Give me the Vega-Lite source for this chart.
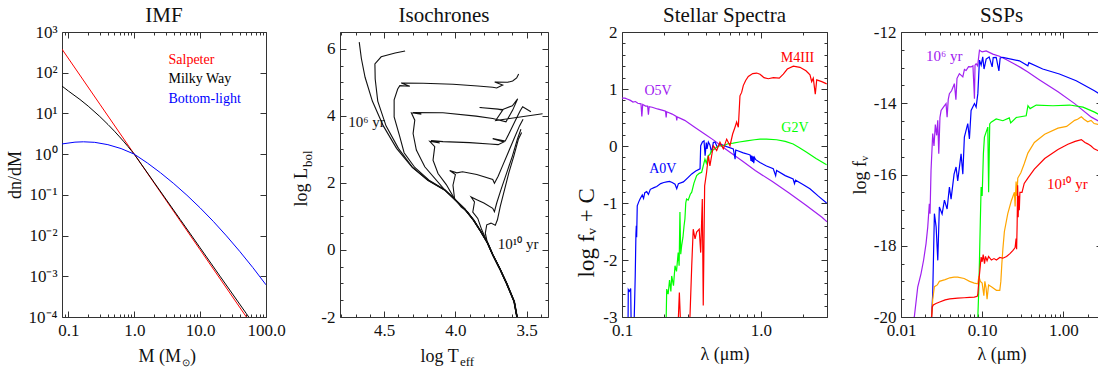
{
 "$schema": "https://vega.github.io/schema/vega-lite/v6.json",
 "padding": {"left": 5, "top": 4, "right": 5, "bottom": 4},
 "background": "white",
 "bounds": "flush",
 "spacing": 74,
 "resolve": {"scale": {"color": "independent"}},
 "config": {
  "font": "Liberation Serif",
  "view": {"stroke": "#333", "strokeWidth": 1},
  "axis": {"grid": false, "domain": false, "labelFont": "Liberation Serif", "labelFontSize": 17, "labelColor": "#111", "labelPadding": 11, "labelOverlap": false, "labelFlush": false, "labelBound": false, "titleFont": "Liberation Serif", "titleFontSize": 18, "titleFontWeight": "normal", "titleColor": "#111", "tickColor": "#333", "tickWidth": 1, "tickSize": -6},
  "title": {"font": "Liberation Serif", "fontSize": 21, "fontWeight": "normal", "color": "#111", "offset": -3, "frame": "group"},
  "text": {"font": "Liberation Serif"}
 },
 "datasets": {
  "imf": [
   {"s":"Salpeter","M":0.08,"dn":379},{"s":"Salpeter","M":0.3,"dn":16.9},{"s":"Salpeter","M":1,"dn":1},{"s":"Salpeter","M":10,"dn":0.00447},{"s":"Salpeter","M":100,"dn":0.00002},
   {"s":"Milky Way","M":0.08,"dn":47},{"s":"Milky Way","M":0.1,"dn":35.5},{"s":"Milky Way","M":0.15,"dn":22},{"s":"Milky Way","M":0.2,"dn":15.1},{"s":"Milky Way","M":0.3,"dn":8.4},{"s":"Milky Way","M":0.4,"dn":5.33},{"s":"Milky Way","M":0.5,"dn":3.66},{"s":"Milky Way","M":0.6,"dn":2.65},{"s":"Milky Way","M":0.7,"dn":2.0},{"s":"Milky Way","M":0.8,"dn":1.55},{"s":"Milky Way","M":0.9,"dn":1.23},{"s":"Milky Way","M":1,"dn":1},{"s":"Milky Way","M":2,"dn":0.203},{"s":"Milky Way","M":5,"dn":0.0247},{"s":"Milky Way","M":10,"dn":0.005},{"s":"Milky Way","M":20,"dn":0.00101},{"s":"Milky Way","M":50,"dn":0.000123},{"s":"Milky Way","M":100,"dn":0.000025},
   {"s":"Bottom-light","M":0.08,"dn":1.78},{"s":"Bottom-light","M":0.1259,"dn":1.97},{"s":"Bottom-light","M":0.1698,"dn":2.01},{"s":"Bottom-light","M":0.2512,"dn":1.95},{"s":"Bottom-light","M":0.3981,"dn":1.71},{"s":"Bottom-light","M":0.631,"dn":1.37},{"s":"Bottom-light","M":1,"dn":1},{"s":"Bottom-light","M":1.585,"dn":0.605},{"s":"Bottom-light","M":2.512,"dn":0.347},{"s":"Bottom-light","M":3.981,"dn":0.189},{"s":"Bottom-light","M":6.31,"dn":0.0977},{"s":"Bottom-light","M":10,"dn":0.0479},{"s":"Bottom-light","M":15.85,"dn":0.0223},{"s":"Bottom-light","M":25.12,"dn":0.00982},{"s":"Bottom-light","M":39.81,"dn":0.00411},{"s":"Bottom-light","M":63.1,"dn":0.00164},{"s":"Bottom-light","M":100,"dn":0.000617}
  ],
  "imf_lab": [
   {"s":"Salpeter","t":"Salpeter","M":3.31,"dn":206},
   {"s":"Milky Way","t":"Milky Way","M":3.31,"dn":70.5},
   {"s":"Bottom-light","t":"Bottom-light","M":3.31,"dn":22.8}
  ],
  "iso": [
   {"i":"A","T":3.563,"L":-2.1},{"i":"A","T":3.587,"L":-1.54},{"i":"A","T":3.64,"L":-1.0},{"i":"A","T":3.689,"L":-0.55},{"i":"A","T":3.738,"L":-0.14},{"i":"A","T":3.773,"L":0.2},{"i":"A","T":3.822,"L":0.55},{"i":"A","T":3.871,"L":0.88},{"i":"A","T":3.934,"L":1.22},{"i":"A","T":4.003,"L":1.5},{"i":"A","T":4.075,"L":1.79},{"i":"A","T":4.192,"L":2.08},{"i":"A","T":4.303,"L":2.46},{"i":"A","T":4.413,"L":3.03},{"i":"A","T":4.506,"L":3.7},{"i":"A","T":4.583,"L":4.44},{"i":"A","T":4.634,"L":5.15},{"i":"A","T":4.66,"L":5.71},{"i":"A","T":4.675,"L":6.2},
   {"i":"B","T":3.565,"L":-2.1},{"i":"B","T":3.589,"L":-1.54},{"i":"B","T":3.642,"L":-1.0},{"i":"B","T":3.691,"L":-0.55},{"i":"B","T":3.74,"L":-0.14},{"i":"B","T":3.775,"L":0.2},{"i":"B","T":3.824,"L":0.55},{"i":"B","T":3.873,"L":0.88},{"i":"B","T":3.936,"L":1.22},{"i":"B","T":4.005,"L":1.5},{"i":"B","T":4.077,"L":1.79},{"i":"B","T":4.194,"L":2.08},{"i":"B","T":4.3,"L":2.46},{"i":"B","T":4.4,"L":3.03},{"i":"B","T":4.487,"L":3.7},{"i":"B","T":4.545,"L":4.44},{"i":"B","T":4.563,"L":5.1},{"i":"B","T":4.565,"L":5.55},{"i":"B","T":4.521,"L":5.76},{"i":"B","T":4.423,"L":5.875},{"i":"B","T":4.353,"L":5.935},
   {"i":"C","T":3.561,"L":-2.1},{"i":"C","T":3.585,"L":-1.54},{"i":"C","T":3.638,"L":-1.0},{"i":"C","T":3.687,"L":-0.55},{"i":"C","T":3.736,"L":-0.14},{"i":"C","T":3.771,"L":0.2},{"i":"C","T":3.82,"L":0.55},{"i":"C","T":3.869,"L":0.88},{"i":"C","T":3.932,"L":1.22},{"i":"C","T":4.0,"L":1.5},{"i":"C","T":4.072,"L":1.79},{"i":"C","T":4.185,"L":2.08},{"i":"C","T":4.285,"L":2.46},{"i":"C","T":4.36,"L":2.9},{"i":"C","T":4.39,"L":3.375},{"i":"C","T":4.43,"L":3.97},{"i":"C","T":4.43,"L":4.476},{"i":"C","T":4.405,"L":4.8},{"i":"C","T":4.39,"L":4.9},{"i":"C","T":4.32,"L":4.88},{"i":"C","T":4.38,"L":4.98},{"i":"C","T":4.227,"L":4.97},{"i":"C","T":4.017,"L":4.94},{"i":"C","T":3.843,"L":4.89},{"i":"C","T":3.738,"L":4.85},{"i":"C","T":3.71,"L":4.83},{"i":"C","T":3.668,"L":4.92},{"i":"C","T":3.724,"L":5.01},{"i":"C","T":3.633,"L":5.0},{"i":"C","T":3.598,"L":5.04},{"i":"C","T":3.57,"L":5.13},{"i":"C","T":3.556,"L":5.25},
   {"i":"D","T":3.563,"L":-2.1},{"i":"D","T":3.587,"L":-1.54},{"i":"D","T":3.64,"L":-1.0},{"i":"D","T":3.689,"L":-0.55},{"i":"D","T":3.738,"L":-0.14},{"i":"D","T":3.773,"L":0.2},{"i":"D","T":3.822,"L":0.55},{"i":"D","T":3.871,"L":0.88},{"i":"D","T":3.934,"L":1.22},{"i":"D","T":4.003,"L":1.5},{"i":"D","T":4.075,"L":1.79},{"i":"D","T":4.215,"L":2.48},{"i":"D","T":4.274,"L":2.98},{"i":"D","T":4.297,"L":3.47},{"i":"D","T":4.285,"L":3.87},{"i":"D","T":4.309,"L":4.09},{"i":"D","T":4.239,"L":4.05},{"i":"D","T":4.297,"L":4.1},{"i":"D","T":4.087,"L":4.09},{"i":"D","T":3.855,"L":3.99},{"i":"D","T":3.738,"L":3.92},{"i":"D","T":3.645,"L":3.82},{"i":"D","T":3.598,"L":4.17},{"i":"D","T":3.563,"L":4.51},{"i":"D","T":3.6,"L":4.3},{"i":"D","T":3.668,"L":4.19},{"i":"D","T":3.83,"L":4.25},{"i":"D","T":3.7,"L":4.2},{"i":"D","T":3.668,"L":4.17},{"i":"D","T":3.717,"L":3.86},{"i":"D","T":3.388,"L":4.06},
   {"i":"E","T":3.563,"L":-2.1},{"i":"E","T":3.587,"L":-1.54},{"i":"E","T":3.64,"L":-1.0},{"i":"E","T":3.689,"L":-0.55},{"i":"E","T":3.738,"L":-0.14},{"i":"E","T":3.773,"L":0.2},{"i":"E","T":3.822,"L":0.55},{"i":"E","T":3.871,"L":0.88},{"i":"E","T":3.934,"L":1.22},{"i":"E","T":4.003,"L":1.5},{"i":"E","T":4.064,"L":1.95},{"i":"E","T":4.122,"L":2.28},{"i":"E","T":4.157,"L":2.68},{"i":"E","T":4.145,"L":3.08},{"i":"E","T":4.18,"L":3.24},{"i":"E","T":4.11,"L":3.19},{"i":"E","T":4.17,"L":3.26},{"i":"E","T":4.087,"L":3.23},{"i":"E","T":3.9,"L":3.2},{"i":"E","T":3.76,"L":3.16},{"i":"E","T":3.7,"L":3.14},{"i":"E","T":3.66,"L":3.22},{"i":"E","T":3.738,"L":3.32},{"i":"E","T":3.65,"L":3.25},{"i":"E","T":3.62,"L":3.5},{"i":"E","T":3.58,"L":3.85},{"i":"E","T":3.545,"L":4.15},{"i":"E","T":3.528,"L":4.27},{"i":"E","T":3.47,"L":4.12},
   {"i":"F","T":3.563,"L":-2.1},{"i":"F","T":3.587,"L":-1.54},{"i":"F","T":3.64,"L":-1.0},{"i":"F","T":3.689,"L":-0.55},{"i":"F","T":3.738,"L":-0.14},{"i":"F","T":3.773,"L":0.2},{"i":"F","T":3.822,"L":0.55},{"i":"F","T":3.871,"L":0.88},{"i":"F","T":3.913,"L":1.13},{"i":"F","T":3.959,"L":1.28},{"i":"F","T":4.006,"L":1.53},{"i":"F","T":4.017,"L":1.93},{"i":"F","T":4.0,"L":2.25},{"i":"F","T":4.04,"L":2.37},{"i":"F","T":3.99,"L":2.3},{"i":"F","T":3.95,"L":2.33},{"i":"F","T":3.85,"L":2.25},{"i":"F","T":3.738,"L":2.1},{"i":"F","T":3.726,"L":1.99},{"i":"F","T":3.7,"L":2.2},{"i":"F","T":3.67,"L":2.5},{"i":"F","T":3.63,"L":2.9},{"i":"F","T":3.59,"L":3.3},{"i":"F","T":3.55,"L":3.7},{"i":"F","T":3.525,"L":3.9},
   {"i":"G","T":3.563,"L":-2.1},{"i":"G","T":3.587,"L":-1.54},{"i":"G","T":3.64,"L":-1.0},{"i":"G","T":3.689,"L":-0.55},{"i":"G","T":3.738,"L":-0.14},{"i":"G","T":3.773,"L":0.2},{"i":"G","T":3.815,"L":0.6},{"i":"G","T":3.843,"L":0.94},{"i":"G","T":3.878,"L":1.13},{"i":"G","T":3.866,"L":1.43},{"i":"G","T":3.89,"L":1.58},{"i":"G","T":3.85,"L":1.5},{"i":"G","T":3.8,"L":1.4},{"i":"G","T":3.738,"L":1.24},{"i":"G","T":3.726,"L":1.14},{"i":"G","T":3.71,"L":1.4},{"i":"G","T":3.68,"L":1.8},{"i":"G","T":3.64,"L":2.3},{"i":"G","T":3.6,"L":2.8},{"i":"G","T":3.565,"L":3.3},{"i":"G","T":3.54,"L":3.6},
   {"i":"H","T":3.565,"L":-2.1},{"i":"H","T":3.589,"L":-1.54},{"i":"H","T":3.642,"L":-1.0},{"i":"H","T":3.691,"L":-0.55},{"i":"H","T":3.74,"L":-0.14},{"i":"H","T":3.775,"L":0.2},{"i":"H","T":3.79,"L":0.5},{"i":"H","T":3.78,"L":0.75},{"i":"H","T":3.75,"L":0.8},{"i":"H","T":3.72,"L":0.74},{"i":"H","T":3.705,"L":0.9},{"i":"H","T":3.685,"L":1.3},{"i":"H","T":3.655,"L":1.8},{"i":"H","T":3.625,"L":2.3},{"i":"H","T":3.59,"L":2.8},{"i":"H","T":3.558,"L":3.3},{"i":"H","T":3.535,"L":3.5}
  ],
  "iso_lab": [
   {"t":"10⁶ yr","T":4.752,"L":3.82},
   {"t":"10¹⁰ yr","T":3.703,"L":0.19}
  ],
  "spec": [
   {"s":"O5V","w":0.1,"f":0.84},{"s":"O5V","w":0.105,"f":0.84},{"s":"O5V","w":0.11,"f":0.82},{"s":"O5V","w":0.115,"f":0.8},{"s":"O5V","w":0.12,"f":0.77},{"s":"O5V","w":0.125,"f":0.78},{"s":"O5V","w":0.13,"f":0.75},{"s":"O5V","w":0.137,"f":0.74},{"s":"O5V","w":0.139,"f":0.52},{"s":"O5V","w":0.141,"f":0.73},{"s":"O5V","w":0.148,"f":0.7},{"s":"O5V","w":0.153,"f":0.7},{"s":"O5V","w":0.155,"f":0.55},{"s":"O5V","w":0.157,"f":0.69},{"s":"O5V","w":0.165,"f":0.68},{"s":"O5V","w":0.18,"f":0.65},{"s":"O5V","w":0.2,"f":0.62},{"s":"O5V","w":0.206,"f":0.61},{"s":"O5V","w":0.208,"f":0.5},{"s":"O5V","w":0.21,"f":0.6},{"s":"O5V","w":0.23,"f":0.56},{"s":"O5V","w":0.246,"f":0.52},{"s":"O5V","w":0.248,"f":0.45},{"s":"O5V","w":0.25,"f":0.51},{"s":"O5V","w":0.283,"f":0.45},{"s":"O5V","w":0.334,"f":0.33},{"s":"O5V","w":0.394,"f":0.21},{"s":"O5V","w":0.466,"f":0.09},{"s":"O5V","w":0.52,"f":0.0},{"s":"O5V","w":0.6,"f":-0.11},{"s":"O5V","w":0.732,"f":-0.26},{"s":"O5V","w":0.912,"f":-0.43},{"s":"O5V","w":1.205,"f":-0.62},{"s":"O5V","w":1.589,"f":-0.82},{"s":"O5V","w":2.094,"f":-1.03},{"s":"O5V","w":2.76,"f":-1.25},{"s":"O5V","w":3.0,"f":-1.33},
   {"s":"A0V","w":0.1105,"f":-3.2},{"s":"A0V","w":0.111,"f":-2.52},{"s":"A0V","w":0.113,"f":-2.55},{"s":"A0V","w":0.1155,"f":-2.5},{"s":"A0V","w":0.1165,"f":-3.2},{"s":"A0V","w":0.122,"f":-3.2},{"s":"A0V","w":0.1245,"f":-2.3},{"s":"A0V","w":0.126,"f":-1.55},{"s":"A0V","w":0.1268,"f":-1.4},{"s":"A0V","w":0.1275,"f":-1.6},{"s":"A0V","w":0.1288,"f":-1.05},{"s":"A0V","w":0.132,"f":-0.98},{"s":"A0V","w":0.1349,"f":-0.93},{"s":"A0V","w":0.14,"f":-0.86},{"s":"A0V","w":0.143,"f":-0.92},{"s":"A0V","w":0.146,"f":-0.82},{"s":"A0V","w":0.1507,"f":-0.8},{"s":"A0V","w":0.155,"f":-0.85},{"s":"A0V","w":0.16,"f":-0.76},{"s":"A0V","w":0.17,"f":-0.73},{"s":"A0V","w":0.178,"f":-0.71},{"s":"A0V","w":0.19,"f":-0.66},{"s":"A0V","w":0.2,"f":-0.64},{"s":"A0V","w":0.21,"f":-0.63},{"s":"A0V","w":0.22,"f":-0.62},{"s":"A0V","w":0.23,"f":-0.64},{"s":"A0V","w":0.241,"f":-0.67},{"s":"A0V","w":0.248,"f":-0.75},{"s":"A0V","w":0.255,"f":-0.66},{"s":"A0V","w":0.277,"f":-0.63},{"s":"A0V","w":0.3,"f":-0.55},{"s":"A0V","w":0.318,"f":-0.49},{"s":"A0V","w":0.34,"f":-0.44},{"s":"A0V","w":0.365,"f":-0.4},{"s":"A0V","w":0.369,"f":0.005},{"s":"A0V","w":0.38,"f":0.07},{"s":"A0V","w":0.39,"f":0.09},{"s":"A0V","w":0.397,"f":-0.17},{"s":"A0V","w":0.405,"f":0.06},{"s":"A0V","w":0.41,"f":-0.05},{"s":"A0V","w":0.419,"f":0.07},{"s":"A0V","w":0.43,"f":0.02},{"s":"A0V","w":0.442,"f":-0.11},{"s":"A0V","w":0.455,"f":0.06},{"s":"A0V","w":0.468,"f":0.07},{"s":"A0V","w":0.486,"f":-0.02},{"s":"A0V","w":0.508,"f":0.035},{"s":"A0V","w":0.568,"f":-0.01},{"s":"A0V","w":0.634,"f":-0.05},{"s":"A0V","w":0.653,"f":-0.23},{"s":"A0V","w":0.66,"f":-0.07},{"s":"A0V","w":0.748,"f":-0.12},{"s":"A0V","w":0.82,"f":-0.15},{"s":"A0V","w":0.84,"f":-0.16},{"s":"A0V","w":0.85,"f":-0.26},{"s":"A0V","w":0.86,"f":-0.17},{"s":"A0V","w":0.87,"f":-0.28},{"s":"A0V","w":0.88,"f":-0.18},{"s":"A0V","w":0.89,"f":-0.3},{"s":"A0V","w":0.9,"f":-0.2},{"s":"A0V","w":0.92,"f":-0.24},{"s":"A0V","w":0.986,"f":-0.29},{"s":"A0V","w":1.1,"f":-0.35},{"s":"A0V","w":1.23,"f":-0.4},{"s":"A0V","w":1.28,"f":-0.52},{"s":"A0V","w":1.3,"f":-0.43},{"s":"A0V","w":1.5,"f":-0.52},{"s":"A0V","w":1.71,"f":-0.58},{"s":"A0V","w":1.75,"f":-0.66},{"s":"A0V","w":1.78,"f":-0.6},{"s":"A0V","w":2.0,"f":-0.67},{"s":"A0V","w":2.26,"f":-0.75},{"s":"A0V","w":2.6,"f":-0.88},{"s":"A0V","w":2.98,"f":-1.0},
   {"s":"G2V","w":0.2075,"f":-3.2},{"s":"G2V","w":0.21,"f":-2.51},{"s":"G2V","w":0.215,"f":-2.6},{"s":"G2V","w":0.22,"f":-2.35},{"s":"G2V","w":0.225,"f":-2.55},{"s":"G2V","w":0.228,"f":-2.28},{"s":"G2V","w":0.235,"f":-2.45},{"s":"G2V","w":0.241,"f":-2.1},{"s":"G2V","w":0.247,"f":-2.2},{"s":"G2V","w":0.254,"f":-1.87},{"s":"G2V","w":0.258,"f":-2.1},{"s":"G2V","w":0.2615,"f":-1.16},{"s":"G2V","w":0.265,"f":-1.9},{"s":"G2V","w":0.269,"f":-1.75},{"s":"G2V","w":0.275,"f":-1.6},{"s":"G2V","w":0.28,"f":-1.4},{"s":"G2V","w":0.284,"f":-1.28},{"s":"G2V","w":0.288,"f":-1.0},{"s":"G2V","w":0.292,"f":-0.93},{"s":"G2V","w":0.3,"f":-0.95},{"s":"G2V","w":0.31,"f":-0.85},{"s":"G2V","w":0.318,"f":-0.81},{"s":"G2V","w":0.33,"f":-0.65},{"s":"G2V","w":0.345,"f":-0.52},{"s":"G2V","w":0.36,"f":-0.48},{"s":"G2V","w":0.375,"f":-0.46},{"s":"G2V","w":0.385,"f":-0.35},{"s":"G2V","w":0.396,"f":-0.23},{"s":"G2V","w":0.405,"f":-0.3},{"s":"G2V","w":0.418,"f":-0.17},{"s":"G2V","w":0.43,"f":-0.15},{"s":"G2V","w":0.442,"f":-0.08},{"s":"G2V","w":0.46,"f":-0.06},{"s":"G2V","w":0.481,"f":-0.02},{"s":"G2V","w":0.5,"f":0.0},{"s":"G2V","w":0.536,"f":0.005},{"s":"G2V","w":0.58,"f":0.04},{"s":"G2V","w":0.632,"f":0.05},{"s":"G2V","w":0.7,"f":0.07},{"s":"G2V","w":0.791,"f":0.09},{"s":"G2V","w":0.9,"f":0.11},{"s":"G2V","w":0.988,"f":0.12},{"s":"G2V","w":1.1,"f":0.12},{"s":"G2V","w":1.3,"f":0.11},{"s":"G2V","w":1.5,"f":0.08},{"s":"G2V","w":1.71,"f":0.035},{"s":"G2V","w":1.9,"f":-0.03},{"s":"G2V","w":2.14,"f":-0.11},{"s":"G2V","w":2.5,"f":-0.22},{"s":"G2V","w":2.98,"f":-0.33},
   {"s":"M4III","w":0.253,"f":-3.2},{"s":"M4III","w":0.259,"f":-2.57},{"s":"M4III","w":0.265,"f":-3.2},{"s":"M4III","w":0.305,"f":-3.2},{"s":"M4III","w":0.309,"f":-2.98},{"s":"M4III","w":0.318,"f":-2.1},{"s":"M4III","w":0.326,"f":-1.46},{"s":"M4III","w":0.336,"f":-1.63},{"s":"M4III","w":0.345,"f":-1.51},{"s":"M4III","w":0.36,"f":-1.46},{"s":"M4III","w":0.369,"f":-1.87},{"s":"M4III","w":0.379,"f":-0.93},{"s":"M4III","w":0.385,"f":-2.8},{"s":"M4III","w":0.394,"f":-0.7},{"s":"M4III","w":0.407,"f":-0.46},{"s":"M4III","w":0.419,"f":-0.17},{"s":"M4III","w":0.43,"f":-0.35},{"s":"M4III","w":0.455,"f":0.005},{"s":"M4III","w":0.481,"f":-0.08},{"s":"M4III","w":0.508,"f":0.065},{"s":"M4III","w":0.537,"f":-0.05},{"s":"M4III","w":0.568,"f":0.12},{"s":"M4III","w":0.6,"f":0.005},{"s":"M4III","w":0.627,"f":0.21},{"s":"M4III","w":0.652,"f":0.33},{"s":"M4III","w":0.67,"f":0.42},{"s":"M4III","w":0.689,"f":0.33},{"s":"M4III","w":0.708,"f":0.88},{"s":"M4III","w":0.728,"f":0.94},{"s":"M4III","w":0.748,"f":1.06},{"s":"M4III","w":0.778,"f":1.15},{"s":"M4III","w":0.813,"f":1.22},{"s":"M4III","w":0.875,"f":1.27},{"s":"M4III","w":0.934,"f":1.28},{"s":"M4III","w":0.987,"f":1.26},{"s":"M4III","w":1.054,"f":1.2},{"s":"M4III","w":1.132,"f":1.18},{"s":"M4III","w":1.231,"f":1.2},{"s":"M4III","w":1.359,"f":1.19},{"s":"M4III","w":1.453,"f":1.26},{"s":"M4III","w":1.553,"f":1.35},{"s":"M4III","w":1.716,"f":1.4},{"s":"M4III","w":1.915,"f":1.38},{"s":"M4III","w":2.117,"f":1.32},{"s":"M4III","w":2.262,"f":1.25},{"s":"M4III","w":2.327,"f":1.13},{"s":"M4III","w":2.389,"f":1.19},{"s":"M4III","w":2.47,"f":0.91},{"s":"M4III","w":2.53,"f":1.16},{"s":"M4III","w":2.75,"f":1.13},{"s":"M4III","w":2.985,"f":1.09}
  ],
  "spec_lab": [
   {"s":"O5V","t":"O5V","w":0.1817,"f":0.97},
   {"s":"A0V","t":"A0V","w":0.197,"f":-0.4},
   {"s":"G2V","t":"G2V","w":1.763,"f":0.31},
   {"s":"M4III","t":"M4III","w":1.84,"f":1.54}
  ],
  "ssp": [
   {"s":"1e6","w":0.0135,"f":-20.3},{"s":"1e6","w":0.01459,"f":-20.0},{"s":"1e6","w":0.01607,"f":-19.16},{"s":"1e6","w":0.01766,"f":-18.78},{"s":"1e6","w":0.019,"f":-18.4},{"s":"1e6","w":0.02035,"f":-17.94},{"s":"1e6","w":0.02137,"f":-17.47},{"s":"1e6","w":0.02235,"f":-16.82},{"s":"1e6","w":0.0228,"f":-17.1},{"s":"1e6","w":0.02345,"f":-15.88},{"s":"1e6","w":0.0246,"f":-14.85},{"s":"1e6","w":0.0255,"f":-15.2},{"s":"1e6","w":0.0265,"f":-14.6},{"s":"1e6","w":0.0275,"f":-14.9},{"s":"1e6","w":0.02838,"f":-14.48},{"s":"1e6","w":0.0292,"f":-15.42},{"s":"1e6","w":0.0302,"f":-14.4},{"s":"1e6","w":0.0312,"f":-14.2},{"s":"1e6","w":0.0335,"f":-14.1},{"s":"1e6","w":0.0359,"f":-14.01},{"s":"1e6","w":0.037,"f":-14.39},{"s":"1e6","w":0.0382,"f":-13.9},{"s":"1e6","w":0.0395,"f":-13.73},{"s":"1e6","w":0.042,"f":-13.65},{"s":"1e6","w":0.0455,"f":-13.45},{"s":"1e6","w":0.0475,"f":-13.9},{"s":"1e6","w":0.049,"f":-13.3},{"s":"1e6","w":0.0524,"f":-13.17},{"s":"1e6","w":0.0578,"f":-13.26},{"s":"1e6","w":0.0605,"f":-13.05},{"s":"1e6","w":0.0634,"f":-13.08},{"s":"1e6","w":0.068,"f":-12.97},{"s":"1e6","w":0.0731,"f":-12.98},{"s":"1e6","w":0.077,"f":-12.95},{"s":"1e6","w":0.0804,"f":-13.87},{"s":"1e6","w":0.0817,"f":-12.93},{"s":"1e6","w":0.0843,"f":-12.89},{"s":"1e6","w":0.088,"f":-12.95},{"s":"1e6","w":0.0927,"f":-12.51},{"s":"1e6","w":0.1,"f":-12.56},{"s":"1e6","w":0.1121,"f":-12.53},{"s":"1e6","w":0.1355,"f":-12.62},{"s":"1e6","w":0.1637,"f":-12.68},{"s":"1e6","w":0.2,"f":-12.78},{"s":"1e6","w":0.25,"f":-12.9},{"s":"1e6","w":0.3,"f":-13.0},{"s":"1e6","w":0.366,"f":-13.12},{"s":"1e6","w":0.5,"f":-13.33},{"s":"1e6","w":0.861,"f":-13.68},{"s":"1e6","w":1.38,"f":-14.01},{"s":"1e6","w":2.22,"f":-14.39},{"s":"1e6","w":3.0,"f":-14.55},
   {"s":"1e7","w":0.0234,"f":-20.3},{"s":"1e7","w":0.0246,"f":-19.35},{"s":"1e7","w":0.0258,"f":-17.1},{"s":"1e7","w":0.0271,"f":-17.47},{"s":"1e7","w":0.0284,"f":-18.41},{"s":"1e7","w":0.0297,"f":-16.91},{"s":"1e7","w":0.0321,"f":-17.11},{"s":"1e7","w":0.0343,"f":-16.72},{"s":"1e7","w":0.037,"f":-16.97},{"s":"1e7","w":0.0395,"f":-16.35},{"s":"1e7","w":0.0414,"f":-16.69},{"s":"1e7","w":0.0451,"f":-15.99},{"s":"1e7","w":0.0477,"f":-15.79},{"s":"1e7","w":0.05,"f":-16.18},{"s":"1e7","w":0.055,"f":-15.42},{"s":"1e7","w":0.0578,"f":-15.99},{"s":"1e7","w":0.0604,"f":-14.95},{"s":"1e7","w":0.0665,"f":-14.57},{"s":"1e7","w":0.0697,"f":-15.0},{"s":"1e7","w":0.0731,"f":-14.2},{"s":"1e7","w":0.0804,"f":-14.01},{"s":"1e7","w":0.0843,"f":-14.11},{"s":"1e7","w":0.0885,"f":-13.73},{"s":"1e7","w":0.0927,"f":-12.79},{"s":"1e7","w":0.0972,"f":-12.93},{"s":"1e7","w":0.1017,"f":-12.7},{"s":"1e7","w":0.1055,"f":-13.04},{"s":"1e7","w":0.1121,"f":-12.76},{"s":"1e7","w":0.122,"f":-12.7},{"s":"1e7","w":0.1329,"f":-12.98},{"s":"1e7","w":0.1369,"f":-12.72},{"s":"1e7","w":0.1491,"f":-12.71},{"s":"1e7","w":0.1609,"f":-13.09},{"s":"1e7","w":0.1668,"f":-12.73},{"s":"1e7","w":0.18,"f":-12.71},{"s":"1e7","w":0.288,"f":-12.81},{"s":"1e7","w":0.366,"f":-12.95},{"s":"1e7","w":0.376,"f":-12.86},{"s":"1e7","w":0.558,"f":-13.04},{"s":"1e7","w":0.895,"f":-13.18},{"s":"1e7","w":1.443,"f":-13.37},{"s":"1e7","w":2.418,"f":-13.65},{"s":"1e7","w":3.0,"f":-13.78},
   {"s":"1e8","w":0.0865,"f":-20.3},{"s":"1e8","w":0.0885,"f":-20.0},{"s":"1e8","w":0.091,"f":-19.2},{"s":"1e8","w":0.0927,"f":-18.41},{"s":"1e8","w":0.095,"f":-17.3},{"s":"1e8","w":0.0972,"f":-16.35},{"s":"1e8","w":0.1,"f":-16.6},{"s":"1e8","w":0.1036,"f":-15.42},{"s":"1e8","w":0.1067,"f":-14.95},{"s":"1e8","w":0.1175,"f":-14.67},{"s":"1e8","w":0.1202,"f":-16.5},{"s":"1e8","w":0.124,"f":-14.58},{"s":"1e8","w":0.1291,"f":-14.53},{"s":"1e8","w":0.149,"f":-14.44},{"s":"1e8","w":0.18,"f":-14.49},{"s":"1e8","w":0.216,"f":-14.41},{"s":"1e8","w":0.225,"f":-14.55},{"s":"1e8","w":0.263,"f":-14.4},{"s":"1e8","w":0.349,"f":-14.35},{"s":"1e8","w":0.367,"f":-14.07},{"s":"1e8","w":0.39,"f":-14.15},{"s":"1e8","w":0.464,"f":-14.05},{"s":"1e8","w":0.746,"f":-14.07},{"s":"1e8","w":1.197,"f":-14.05},{"s":"1e8","w":1.75,"f":-14.11},{"s":"1e8","w":2.43,"f":-14.25},{"s":"1e8","w":3.0,"f":-14.36},
   {"s":"1e9","w":0.0234,"f":-20.3},{"s":"1e9","w":0.0246,"f":-19.5},{"s":"1e9","w":0.0258,"f":-19.15},{"s":"1e9","w":0.028,"f":-19.1},{"s":"1e9","w":0.0297,"f":-19.0},{"s":"1e9","w":0.035,"f":-18.95},{"s":"1e9","w":0.04,"f":-18.9},{"s":"1e9","w":0.045,"f":-18.88},{"s":"1e9","w":0.05,"f":-18.88},{"s":"1e9","w":0.06,"f":-18.92},{"s":"1e9","w":0.07,"f":-19.0},{"s":"1e9","w":0.08,"f":-19.05},{"s":"1e9","w":0.0885,"f":-19.07},{"s":"1e9","w":0.0912,"f":-18.85},{"s":"1e9","w":0.095,"f":-19.0},{"s":"1e9","w":0.1,"f":-19.05},{"s":"1e9","w":0.105,"f":-19.4},{"s":"1e9","w":0.108,"f":-19.0},{"s":"1e9","w":0.112,"f":-19.2},{"s":"1e9","w":0.115,"f":-19.5},{"s":"1e9","w":0.12,"f":-19.1},{"s":"1e9","w":0.13,"f":-19.15},{"s":"1e9","w":0.15,"f":-19.25},{"s":"1e9","w":0.165,"f":-19.25},{"s":"1e9","w":0.17,"f":-19.0},{"s":"1e9","w":0.175,"f":-18.5},{"s":"1e9","w":0.18,"f":-18.1},{"s":"1e9","w":0.188,"f":-17.6},{"s":"1e9","w":0.207,"f":-17.1},{"s":"1e9","w":0.228,"f":-16.75},{"s":"1e9","w":0.25,"f":-16.5},{"s":"1e9","w":0.255,"f":-16.9},{"s":"1e9","w":0.262,"f":-16.2},{"s":"1e9","w":0.268,"f":-16.6},{"s":"1e9","w":0.275,"f":-16.1},{"s":"1e9","w":0.3,"f":-15.95},{"s":"1e9","w":0.33,"f":-15.7},{"s":"1e9","w":0.366,"f":-15.4},{"s":"1e9","w":0.44,"f":-15.1},{"s":"1e9","w":0.59,"f":-14.87},{"s":"1e9","w":0.86,"f":-14.7},{"s":"1e9","w":1.1,"f":-14.65},{"s":"1e9","w":1.38,"f":-14.48},{"s":"1e9","w":1.5,"f":-14.45},{"s":"1e9","w":1.67,"f":-14.38},{"s":"1e9","w":1.8,"f":-14.45},{"s":"1e9","w":2.0,"f":-14.52},{"s":"1e9","w":2.2,"f":-14.48},{"s":"1e9","w":2.4,"f":-14.57},{"s":"1e9","w":3.0,"f":-14.62},
   {"s":"1e10","w":0.0234,"f":-20.3},{"s":"1e10","w":0.0243,"f":-19.72},{"s":"1e10","w":0.025,"f":-19.66},{"s":"1e10","w":0.027,"f":-19.62},{"s":"1e10","w":0.03,"f":-19.58},{"s":"1e10","w":0.035,"f":-19.52},{"s":"1e10","w":0.04,"f":-19.49},{"s":"1e10","w":0.05,"f":-19.47},{"s":"1e10","w":0.06,"f":-19.46},{"s":"1e10","w":0.07,"f":-19.45},{"s":"1e10","w":0.08,"f":-19.44},{"s":"1e10","w":0.087,"f":-19.42},{"s":"1e10","w":0.0885,"f":-19.35},{"s":"1e10","w":0.0912,"f":-18.97},{"s":"1e10","w":0.0972,"f":-18.32},{"s":"1e10","w":0.1,"f":-18.45},{"s":"1e10","w":0.103,"f":-18.25},{"s":"1e10","w":0.107,"f":-18.5},{"s":"1e10","w":0.11,"f":-18.3},{"s":"1e10","w":0.115,"f":-18.42},{"s":"1e10","w":0.12,"f":-18.3},{"s":"1e10","w":0.13,"f":-18.4},{"s":"1e10","w":0.14,"f":-18.36},{"s":"1e10","w":0.15,"f":-18.4},{"s":"1e10","w":0.165,"f":-18.33},{"s":"1e10","w":0.18,"f":-18.35},{"s":"1e10","w":0.2,"f":-18.3},{"s":"1e10","w":0.22,"f":-18.22},{"s":"1e10","w":0.24,"f":-18.13},{"s":"1e10","w":0.255,"f":-18.05},{"s":"1e10","w":0.262,"f":-17.8},{"s":"1e10","w":0.266,"f":-18.1},{"s":"1e10","w":0.27,"f":-17.4},{"s":"1e10","w":0.274,"f":-16.3},{"s":"1e10","w":0.278,"f":-17.2},{"s":"1e10","w":0.282,"f":-16.6},{"s":"1e10","w":0.287,"f":-17.0},{"s":"1e10","w":0.292,"f":-16.5},{"s":"1e10","w":0.31,"f":-16.5},{"s":"1e10","w":0.33,"f":-16.25},{"s":"1e10","w":0.366,"f":-16.1},{"s":"1e10","w":0.44,"f":-15.85},{"s":"1e10","w":0.59,"f":-15.55},{"s":"1e10","w":0.86,"f":-15.3},{"s":"1e10","w":1.14,"f":-15.15},{"s":"1e10","w":1.4,"f":-15.07},{"s":"1e10","w":1.67,"f":-15.02},{"s":"1e10","w":1.85,"f":-15.1},{"s":"1e10","w":2.0,"f":-15.14},{"s":"1e10","w":2.2,"f":-15.2},{"s":"1e10","w":2.4,"f":-15.28},{"s":"1e10","w":3.0,"f":-15.38}
  ],
  "ssp_lab": [
   {"s":"1e6","t":"10⁶ yr","w":0.0204,"f":-12.66},
   {"s":"1e10","t":"10¹⁰ yr","w":0.629,"f":-16.27}
  ]
 },
 "hconcat": [
  {
   "width": 204, "height": 285, "title": "IMF",
   "resolve": {"axis": {"x": "independent", "y": "independent"}},
   "layer": [
    {"data": {"name": "imf"},
     "mark": {"type": "line", "clip": true, "strokeWidth": 1},
     "encoding": {
      "x": {"field": "M", "type": "quantitative", "scale": {"type": "log", "domain": [0.08, 100], "nice": false},
            "axis": {"orient": "bottom", "values": [0.09,0.1,0.2,0.3,0.4,0.5,0.6,0.7,0.8,0.9,1,2,3,4,5,6,7,8,9,10,20,30,40,50,60,70,80,90,100], "tickSize": {"condition": {"test": "datum.value==0.1||datum.value==1||datum.value==10||datum.value==100", "value": -6}, "value": -3}, "labelExpr": "datum.value==0.1?'0.1':datum.value==1?'1.0':datum.value==10?'10.0':datum.value==100?'100.0':''", "title": "M (M", "titleX": 76, "titleY": 44, "titleAlign": "left", "titleBaseline": "alphabetic"}},
      "y": {"field": "dn", "type": "quantitative", "scale": {"type": "log", "domain": [0.0001, 1000], "nice": false},
            "axis": {"orient": "left", "values": [0.0001,0.001,0.01,0.1,1,10,100,1000], "labelExpr": "['10⁻⁴','10⁻³','10⁻²','10⁻¹','10⁰','10¹','10²','10³'][round(log(datum.value)/LN10)+4]", "title": "dn/dM"}},
      "color": {"field": "s", "type": "nominal", "scale": {"domain": ["Salpeter", "Milky Way", "Bottom-light"], "range": ["#ff0000", "#000000", "#0000ff"]}, "legend": null},
      "order": {"value": null}
     }},
    {"data": {"name": "imf_lab"},
     "mark": {"type": "text", "align": "left", "baseline": "middle", "fontSize": 14},
     "encoding": {
      "x": {"field": "M", "type": "quantitative", "scale": {"type": "log", "domain": [0.08, 100], "nice": false},
            "axis": {"orient": "top", "values": [0.09,0.1,0.2,0.3,0.4,0.5,0.6,0.7,0.8,0.9,1,2,3,4,5,6,7,8,9,10,20,30,40,50,60,70,80,90,100], "tickSize": {"condition": {"test": "datum.value==0.1||datum.value==1||datum.value==10||datum.value==100", "value": -6}, "value": -3}, "labels": false, "title": null}},
      "y": {"field": "dn", "type": "quantitative", "scale": {"type": "log", "domain": [0.0001, 1000], "nice": false},
            "axis": {"orient": "right", "values": [0.0001,0.001,0.01,0.1,1,10,100,1000], "labels": false, "title": null}},
      "text": {"field": "t"},
      "color": {"field": "s", "type": "nominal", "scale": {"domain": ["Salpeter", "Milky Way", "Bottom-light"], "range": ["#ff0000", "#000000", "#0000ff"]}, "legend": null}
     }},
    {"data": {"name": "imf_lab"},
     "mark": {"type": "text", "opacity": 0},
     "encoding": {
      "x": {"field": "M", "type": "quantitative", "scale": {"type": "log", "domain": [0.08, 100], "nice": false},
            "axis": {"orient": "bottom", "labels": false, "ticks": false, "domain": false, "title": "⊙", "titleFontSize": 10, "titleX": 119, "titleY": 48, "titleAlign": "left", "titleBaseline": "alphabetic"}},
      "y": {"field": "dn", "type": "quantitative", "scale": {"type": "log", "domain": [0.0001, 1000], "nice": false}, "axis": null},
      "text": {"field": "t"}
     }},
    {"data": {"name": "imf_lab"},
     "mark": {"type": "text", "opacity": 0},
     "encoding": {
      "x": {"field": "M", "type": "quantitative", "scale": {"type": "log", "domain": [0.08, 100], "nice": false},
            "axis": {"orient": "bottom", "labels": false, "ticks": false, "domain": false, "title": ")", "titleX": 127.5, "titleY": 44, "titleAlign": "left", "titleBaseline": "alphabetic"}},
      "y": {"field": "dn", "type": "quantitative", "scale": {"type": "log", "domain": [0.0001, 1000], "nice": false}, "axis": null},
      "text": {"field": "t"}
     }}
   ]
  },
  {
   "width": 208, "height": 285, "title": "Isochrones",
   "resolve": {"axis": {"x": "independent", "y": "independent"}},
   "layer": [
    {"data": {"name": "iso"},
     "mark": {"type": "line", "clip": true, "strokeWidth": 1.1, "color": "#111"},
     "encoding": {
      "x": {"field": "T", "type": "quantitative", "scale": {"domain": [4.81, 3.35], "nice": false, "zero": false},
            "axis": {"orient": "bottom", "values": [4.8,4.7,4.6,4.5,4.4,4.3,4.2,4.1,4,3.9,3.8,3.7,3.6,3.5,3.4], "tickSize": {"condition": {"test": "datum.value==4.5||datum.value==4||datum.value==3.5", "value": -6}, "value": -3}, "labelExpr": "datum.value==4.5?'4.5':datum.value==4?'4.0':datum.value==3.5?'3.5':''", "title": "log T", "titleX": 80, "titleY": 44, "titleAlign": "left", "titleBaseline": "alphabetic"}},
      "y": {"field": "L", "type": "quantitative", "scale": {"domain": [-2, 6.5], "nice": false, "zero": false},
            "axis": {"orient": "left", "values": [-2,-1.5,-1,-0.5,0,0.5,1,1.5,2,2.5,3,3.5,4,4.5,5,5.5,6,6.5], "tickSize": {"condition": {"test": "datum.value%2==0", "value": -6}, "value": -3}, "labelExpr": "datum.value%2==0?''+datum.value:''", "title": "log L", "titleX": -34, "titleY": 174, "titleAlign": "left", "titleBaseline": "alphabetic", "titleAngle": 270}},
      "detail": {"field": "i"},
      "order": {"value": null}
     }},
    {"data": {"name": "iso_lab"},
     "mark": {"type": "text", "align": "left", "baseline": "middle", "fontSize": 15, "color": "#111"},
     "encoding": {
      "x": {"field": "T", "type": "quantitative", "scale": {"domain": [4.81, 3.35], "nice": false, "zero": false},
            "axis": {"orient": "top", "values": [4.8,4.7,4.6,4.5,4.4,4.3,4.2,4.1,4,3.9,3.8,3.7,3.6,3.5,3.4], "tickSize": {"condition": {"test": "datum.value==4.5||datum.value==4||datum.value==3.5", "value": -6}, "value": -3}, "labels": false, "title": null}},
      "y": {"field": "L", "type": "quantitative", "scale": {"domain": [-2, 6.5], "nice": false, "zero": false},
            "axis": {"orient": "right", "values": [-2,-1.5,-1,-0.5,0,0.5,1,1.5,2,2.5,3,3.5,4,4.5,5,5.5,6,6.5], "tickSize": {"condition": {"test": "datum.value%2==0", "value": -6}, "value": -3}, "labels": false, "title": null}},
      "text": {"field": "t"}
     }},
    {"data": {"name": "iso_lab"},
     "mark": {"type": "text", "opacity": 0},
     "encoding": {
      "x": {"field": "T", "type": "quantitative", "scale": {"domain": [4.81, 3.35], "nice": false, "zero": false},
            "axis": {"orient": "bottom", "labels": false, "ticks": false, "domain": false, "title": "eff", "titleFontSize": 13, "titleX": 119.5, "titleY": 48, "titleAlign": "left", "titleBaseline": "alphabetic"}},
      "y": {"field": "L", "type": "quantitative", "scale": {"domain": [-2, 6.5], "nice": false, "zero": false},
            "axis": {"orient": "left", "labels": false, "ticks": false, "domain": false, "title": "bol", "titleFontSize": 13, "titleX": -29, "titleY": 134.5, "titleAlign": "left", "titleBaseline": "alphabetic", "titleAngle": 270}},
      "text": {"field": "t"}
     }}
   ]
  },
  {
   "width": 205, "height": 285, "title": "Stellar Spectra",
   "resolve": {"axis": {"x": "independent", "y": "independent"}},
   "layer": [
    {"data": {"name": "spec"},
     "mark": {"type": "line", "clip": true, "strokeWidth": 1.2},
     "encoding": {
      "x": {"field": "w", "type": "quantitative", "scale": {"type": "log", "domain": [0.1, 3.0], "nice": false},
            "axis": {"orient": "bottom", "values": [0.1,0.2,0.3,0.4,0.5,0.6,0.7,0.8,0.9,1,2,3], "tickSize": {"condition": {"test": "datum.value==0.1||datum.value==1", "value": -6}, "value": -3}, "labelExpr": "datum.value==0.1?'0.1':datum.value==1?'1.0':''", "title": "λ (μm)"}},
      "y": {"field": "f", "type": "quantitative", "scale": {"domain": [-3, 2], "nice": false, "zero": false},
            "axis": {"orient": "left", "values": [-3,-2.8,-2.6,-2.4,-2.2,-2,-1.8,-1.6,-1.4,-1.2,-1,-0.8,-0.6,-0.4,-0.2,0,0.2,0.4,0.6,0.8,1,1.2,1.4,1.6,1.8,2], "tickSize": {"condition": {"test": "datum.value==round(datum.value)", "value": -6}, "value": -3}, "labelExpr": "datum.value==round(datum.value)?''+datum.value:''", "title": "log fᵥ + C", "titleFontSize": 23, "titleX": -29, "titleY": 245, "titleAlign": "left", "titleBaseline": "alphabetic", "titleAngle": 270}},
      "color": {"field": "s", "type": "nominal", "scale": {"domain": ["O5V", "A0V", "G2V", "M4III"], "range": ["#a020f0", "#0000ff", "#00ff00", "#ff0000"]}, "legend": null},
      "order": {"value": null}
     }},
    {"data": {"name": "spec_lab"},
     "mark": {"type": "text", "align": "center", "baseline": "middle", "fontSize": 14},
     "encoding": {
      "x": {"field": "w", "type": "quantitative", "scale": {"type": "log", "domain": [0.1, 3.0], "nice": false},
            "axis": {"orient": "top", "values": [0.1,0.2,0.3,0.4,0.5,0.6,0.7,0.8,0.9,1,2,3], "tickSize": {"condition": {"test": "datum.value==0.1||datum.value==1", "value": -6}, "value": -3}, "labels": false, "title": null}},
      "y": {"field": "f", "type": "quantitative", "scale": {"domain": [-3, 2], "nice": false, "zero": false},
            "axis": {"orient": "right", "values": [-3,-2.8,-2.6,-2.4,-2.2,-2,-1.8,-1.6,-1.4,-1.2,-1,-0.8,-0.6,-0.4,-0.2,0,0.2,0.4,0.6,0.8,1,1.2,1.4,1.6,1.8,2], "tickSize": {"condition": {"test": "datum.value==round(datum.value)", "value": -6}, "value": -3}, "labels": false, "title": null}},
      "text": {"field": "t"},
      "color": {"field": "s", "type": "nominal", "scale": {"domain": ["O5V", "A0V", "G2V", "M4III"], "range": ["#a020f0", "#0000ff", "#00ff00", "#ff0000"]}, "legend": null}
     }}
   ]
  },
  {
   "width": 201, "height": 285, "title": "SSPs",
   "resolve": {"axis": {"x": "independent", "y": "independent"}},
   "layer": [
    {"data": {"name": "ssp"},
     "mark": {"type": "line", "clip": true, "strokeWidth": 1.2},
     "encoding": {
      "x": {"field": "w", "type": "quantitative", "scale": {"type": "log", "domain": [0.01, 3.0], "nice": false},
            "axis": {"orient": "bottom", "values": [0.01,0.02,0.03,0.04,0.05,0.06,0.07,0.08,0.09,0.1,0.2,0.3,0.4,0.5,0.6,0.7,0.8,0.9,1,2,3], "tickSize": {"condition": {"test": "datum.value==0.01||datum.value==0.1||datum.value==1", "value": -6}, "value": -3}, "labelExpr": "datum.value==0.01?'0.01':datum.value==0.1?'0.10':datum.value==1?'1.00':''", "title": "λ (μm)"}},
      "y": {"field": "f", "type": "quantitative", "scale": {"domain": [-20, -12], "nice": false, "zero": false},
            "axis": {"orient": "left", "values": [-20,-19.5,-19,-18.5,-18,-17.5,-17,-16.5,-16,-15.5,-15,-14.5,-14,-13.5,-13,-12.5,-12], "tickSize": {"condition": {"test": "datum.value%2==0", "value": -6}, "value": -3}, "labelExpr": "datum.value%2==0?''+datum.value:''", "title": "log fᵥ"}},
      "color": {"field": "s", "type": "nominal", "scale": {"domain": ["1e6", "1e7", "1e8", "1e9", "1e10"], "range": ["#a020f0", "#0000ff", "#00ff00", "#ffa500", "#ff0000"]}, "legend": null},
      "order": {"value": null}
     }},
    {"data": {"name": "ssp_lab"},
     "mark": {"type": "text", "align": "left", "baseline": "middle", "fontSize": 15},
     "encoding": {
      "x": {"field": "w", "type": "quantitative", "scale": {"type": "log", "domain": [0.01, 3.0], "nice": false},
            "axis": {"orient": "top", "values": [0.01,0.02,0.03,0.04,0.05,0.06,0.07,0.08,0.09,0.1,0.2,0.3,0.4,0.5,0.6,0.7,0.8,0.9,1,2,3], "tickSize": {"condition": {"test": "datum.value==0.01||datum.value==0.1||datum.value==1", "value": -6}, "value": -3}, "labels": false, "title": null}},
      "y": {"field": "f", "type": "quantitative", "scale": {"domain": [-20, -12], "nice": false, "zero": false},
            "axis": {"orient": "right", "values": [-20,-19.5,-19,-18.5,-18,-17.5,-17,-16.5,-16,-15.5,-15,-14.5,-14,-13.5,-13,-12.5,-12], "tickSize": {"condition": {"test": "datum.value%2==0", "value": -6}, "value": -3}, "labels": false, "title": null}},
      "text": {"field": "t"},
      "color": {"field": "s", "type": "nominal", "scale": {"domain": ["1e6", "1e7", "1e8", "1e9", "1e10"], "range": ["#a020f0", "#0000ff", "#00ff00", "#ffa500", "#ff0000"]}, "legend": null}
     }}
   ]
  }
 ]
}
